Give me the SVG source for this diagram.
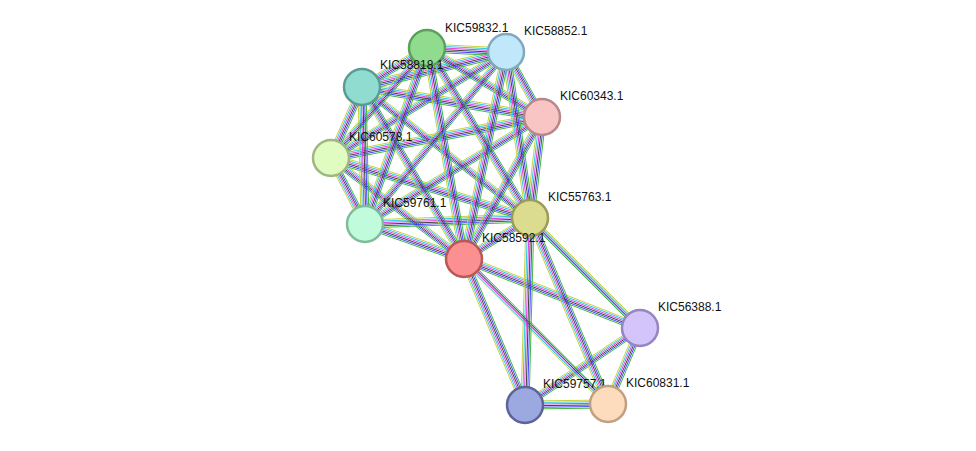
<svg xmlns="http://www.w3.org/2000/svg" xmlns:xlink="http://www.w3.org/1999/xlink" width="976" height="451" viewBox="0 0 976 451">
<style>
.n{stroke-width:2.5}
text{font-family:"Liberation Sans",Arial,sans-serif;font-size:12px;fill:#111}
line{stroke-width:1;fill:none}
</style>
<defs>
<g id="H">
<line x1="427" y1="48" x2="506" y2="52"/><line x1="427" y1="48" x2="362" y2="87"/><line x1="427" y1="48" x2="542" y2="117"/>
<line x1="506" y1="52" x2="362" y2="87"/><line x1="506" y1="52" x2="331" y2="158"/>
<line x1="362" y1="87" x2="542" y2="117"/><line x1="362" y1="87" x2="530" y2="218"/>
<line x1="542" y1="117" x2="331" y2="158"/><line x1="542" y1="117" x2="365" y2="224"/>
<line x1="331" y1="158" x2="530" y2="218"/><line x1="331" y1="158" x2="464" y2="259"/>
<line x1="365" y1="224" x2="530" y2="218"/><line x1="365" y1="224" x2="464" y2="259"/>
<line x1="530" y1="218" x2="464" y2="259"/>
<line x1="464" y1="259" x2="640" y2="328"/><line x1="530" y1="218" x2="640" y2="328"/>
<line x1="640" y1="328" x2="525" y2="405"/><line x1="525" y1="405" x2="608" y2="404"/>
</g>
<g id="V">
<line x1="427" y1="48" x2="331" y2="158"/><line x1="427" y1="48" x2="365" y2="224"/><line x1="427" y1="48" x2="530" y2="218"/><line x1="427" y1="48" x2="464" y2="259"/>
<line x1="506" y1="52" x2="542" y2="117"/><line x1="506" y1="52" x2="365" y2="224"/><line x1="506" y1="52" x2="530" y2="218"/><line x1="506" y1="52" x2="464" y2="259"/>
<line x1="362" y1="87" x2="331" y2="158"/><line x1="362" y1="87" x2="365" y2="224"/><line x1="362" y1="87" x2="464" y2="259"/>
<line x1="542" y1="117" x2="530" y2="218"/><line x1="542" y1="117" x2="464" y2="259"/>
<line x1="331" y1="158" x2="365" y2="224"/>
<line x1="464" y1="259" x2="525" y2="405"/><line x1="464" y1="259" x2="608" y2="404"/>
<line x1="530" y1="218" x2="525" y2="405"/><line x1="530" y1="218" x2="608" y2="404"/>
<line x1="640" y1="328" x2="608" y2="404"/>
</g>
</defs>
<g id="connectors">
<use xlink:href="#H" stroke="#c8d040" transform="translate(0,-4)"/>
<use xlink:href="#H" stroke="#30c8e8" transform="translate(0,-2.4)"/>
<use xlink:href="#H" stroke="#e040e0" transform="translate(0,-0.8)"/>
<use xlink:href="#H" stroke="#404040" transform="translate(0,0.8)"/>
<use xlink:href="#H" stroke="#4040ff" transform="translate(0,2.4)"/>
<use xlink:href="#H" stroke="#40b840" transform="translate(0,4)"/>
<use xlink:href="#V" stroke="#c8d040" transform="translate(-4,0)"/>
<use xlink:href="#V" stroke="#30c8e8" transform="translate(-2.4,0)"/>
<use xlink:href="#V" stroke="#e040e0" transform="translate(-0.8,0)"/>
<use xlink:href="#V" stroke="#404040" transform="translate(0.8,0)"/>
<use xlink:href="#V" stroke="#4040ff" transform="translate(2.4,0)"/>
<use xlink:href="#V" stroke="#40b840" transform="translate(4,0)"/>
</g>
<g id="KIC59832.1"><circle class="n" cx="427" cy="48" r="18" fill="#8fdc8f" stroke="#5ca05c"/><text x="445" y="32">KIC59832.1</text></g>
<g id="KIC58852.1"><circle class="n" cx="506" cy="52" r="18" fill="#c0e8fa" stroke="#80a8c0"/><text x="524" y="35">KIC58852.1</text></g>
<g id="KIC58818.1"><circle class="n" cx="362" cy="87" r="18" fill="#90dcd0" stroke="#5a9c94"/><text x="380" y="69">KIC58818.1</text></g>
<g id="KIC60343.1"><circle class="n" cx="542" cy="117" r="18" fill="#f8c4c4" stroke="#b88888"/><text x="560" y="100">KIC60343.1</text></g>
<g id="KIC60578.1"><circle class="n" cx="331" cy="158" r="18" fill="#e0fcc0" stroke="#a0b880"/><text x="349" y="141">KIC60578.1</text></g>
<g id="KIC59761.1"><circle class="n" cx="365" cy="224" r="18" fill="#c0fcdc" stroke="#80bc9c"/><text x="383" y="207">KIC59761.1</text></g>
<g id="KIC55763.1"><circle class="n" cx="530" cy="218" r="18" fill="#dcdc90" stroke="#9c9c58"/><text x="548" y="201">KIC55763.1</text></g>
<g id="KIC58592.1"><circle class="n" cx="464" cy="259" r="18" fill="#fc9090" stroke="#b85858"/><text x="482" y="242">KIC58592.1</text></g>
<g id="KIC56388.1"><circle class="n" cx="640" cy="328" r="18" fill="#d4c4fc" stroke="#9884c0"/><text x="658" y="311">KIC56388.1</text></g>
<g id="KIC59757.1"><circle class="n" cx="525" cy="405" r="18" fill="#9ca8e0" stroke="#5c6498"/><text x="543" y="388">KIC59757.1</text></g>
<g id="KIC60831.1"><circle class="n" cx="608" cy="404" r="18" fill="#fcdcbc" stroke="#c0a080"/><text x="626" y="387">KIC60831.1</text></g>
</svg>
